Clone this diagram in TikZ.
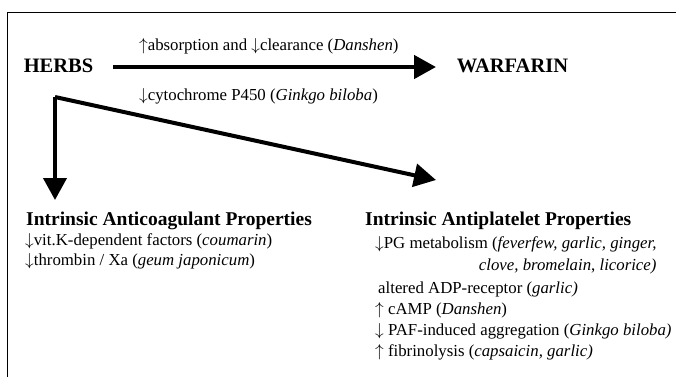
\documentclass[tikz,border=0pt]{standalone}
\usepackage{fontspec}
\setmainfont{Liberation Serif}
\usetikzlibrary{arrows.meta}
\begin{document}
\begin{tikzpicture}[x=1pt, y=-1pt,
  drug/.style={font=\fontsize{20.5}{22}\selectfont\bfseries, inner sep=0pt},
  head/.style={font=\fontsize{19.5}{21}\selectfont\bfseries, anchor=west, inner sep=0pt},
  item/.style={font=\fontsize{16.8}{19}\selectfont, anchor=west, inner sep=0pt},
  bigarrow/.style={line width=4.6pt, -{Triangle[length=22pt,width=23pt]}}
]
  \useasboundingbox (0,0) rectangle (676,376);
  % frame (cut off at right and bottom)
  \draw[line width=0.9pt] (7,390) -- (7,12) -- (690,12);

  \node[drug] (herbs)    at (58.5, 66) {HERBS};
  \node[drug] (warfarin) at (512.5, 66) {WARFARIN};
  \coordinate (hstart) at (113, 67);
  \coordinate (hend)   at (436, 67);
  \draw[bigarrow] (hstart) -- (hend);
  \node[item] (absorb) at (139, 46) {$\uparrow$absorption and $\downarrow$clearance (\textit{Danshen})};
  \node[item] (cyp)    at (139, 96) {$\downarrow$cytochrome P450 (\textit{Ginkgo biloba})};

  % the two effects
  \coordinate (split) at (55, 97);
  \node[head] (anticoag) at (26, 221)  {Intrinsic Anticoagulant Properties};
  \node[head] (antiplat) at (365, 221) {Intrinsic Antiplatelet Properties};
  \coordinate (coagtip) at (55, 200);
  \coordinate (plattip) at (436, 180);
  \draw[bigarrow, line width=4pt] (split) -- (coagtip);
  \draw[bigarrow, line width=4pt] (split) -- (plattip);

  \node[item] (vitk)   at (25, 241) {$\downarrow$vit.K-dependent factors (\textit{coumarin})};
  \node[item] (thromb) at (25, 261) {$\downarrow$thrombin / Xa (\textit{geum japonicum})};

  \node[item] (pg)     at (375, 244) {$\downarrow$PG metabolism (\textit{feverfew, garlic, ginger,}};
  \node[item, anchor=east] (pg2) at (pg.east |- 0,266) {\textit{clove, bromelain}, \textit{licorice)}};
  \node[item] (adp)    at (378, 289) {altered ADP-receptor (\textit{garlic)}};
  \node[item] (camp)   at (375, 310) {$\uparrow$ cAMP (\textit{Danshen})};
  \node[item] (paf)    at (375, 331) {$\downarrow$ PAF-induced aggregation (\textit{Ginkgo biloba)}};
  \node[item] (fibrin) at (375, 352) {$\uparrow$ fibrinolysis (\textit{capsaicin, garlic)}};
\end{tikzpicture}
\end{document}
